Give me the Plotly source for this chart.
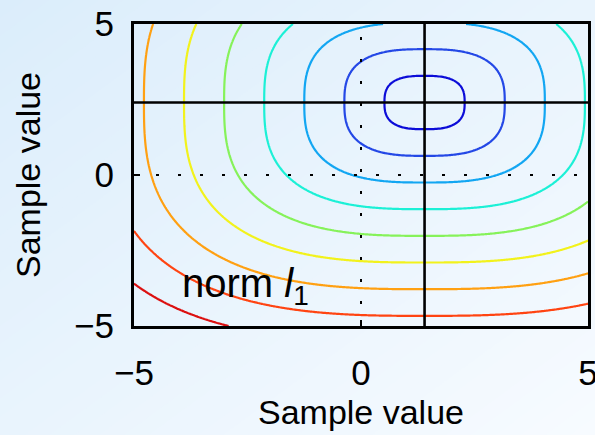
import numpy as np
import plotly.graph_objects as go

# ---- data ----
center_x = 1.4          # location of the minimum (solid black cross)
center_y = 2.4
norm_power = 2.8        # shape of the rounded-square contours
level_step = 0.883      # spacing between contour levels
n_levels = 9
level_colors = ["#0c0cd8", "#2448e6", "#12a6f2", "#1cf0d6", "#86f25a",
                "#f2f21c", "#ffa012", "#ff4412", "#dc1010"]
x_range = [-5, 5]
y_range = [-5, 5]
tick_vals = [-5, 0, 5]
tick_text = ["\u22125", "0", "5"]
axis_title = "Sample value"
label_text = "norm <i>l</i><sub>1</sub>"
label_pos = (-3.98, -3.68)

# ---- surface ----
gx = np.linspace(x_range[0], x_range[1], 301)
gy = np.linspace(y_range[0], y_range[1], 301)
X, Y = np.meshgrid(gx, gy)
Z = (np.abs(X - center_x) ** norm_power + np.abs(Y - center_y) ** norm_power) ** (1 / norm_power)

z_lo = level_step
z_hi = level_step * n_levels
cscale = [[i / (n_levels - 1), c] for i, c in enumerate(level_colors)]

fig = go.Figure()
fig.add_trace(go.Contour(
    x=gx, y=gy, z=Z,
    zmin=z_lo, zmax=z_hi,
    contours=dict(start=z_lo, end=z_hi + 1e-6, size=level_step, coloring="lines"),
    colorscale=cscale, showscale=False,
    line=dict(width=2.2),
    hoverinfo="skip",
))

FONT = "Liberation Sans, Arial, sans-serif"
W, H = 595, 435
ML, MR, MT, MB = 134, 7, 24, 109
PW, PH = W - ML - MR, H - MT - MB

# ---- soft diagonal background gradient over the whole figure (style only) ----
c0 = np.array([0xDB, 0xED, 0xFB], float)
c1 = np.array([0xF7, 0xFB, 0xFF], float)
N = 48


def fig_to_paper(fx, fyd):
    # fx: 0..1 left->right of the figure, fyd: 0..1 top->bottom of the figure
    px = (fx * W - ML) / PW
    py = ((1 - fyd) * H - MB) / PH
    return px, py


for i in range(N):
    a = 2.0 * i / N
    b = 2.0 * (i + 1) / N + 0.012
    col = c0 + (c1 - c0) * (i + 0.5) / N
    pts = []
    for s, d in [(a, -2), (b, -2), (b, 2), (a, 2)]:
        pts.append(fig_to_paper((s + d) / 2, (s - d) / 2))
    path = "M " + " L ".join(f"{p[0]:.4f},{p[1]:.4f}" for p in pts) + " Z"
    fig.add_shape(type="path", path=path, xref="paper", yref="paper",
                  fillcolor="rgb(%d,%d,%d)" % tuple(col.round().astype(int)),
                  line=dict(width=0), layer="below")

# dotted zero lines
fig.add_shape(type="line", x0=0, x1=0, y0=y_range[0], y1=y_range[1],
              line=dict(color="black", width=2, dash="3px,19px"))
fig.add_shape(type="line", x0=x_range[0], x1=x_range[1], y0=0, y1=0,
              line=dict(color="black", width=2, dash="3px,19px"))
# solid cross through the minimum
fig.add_shape(type="line", x0=center_x, x1=center_x, y0=y_range[0], y1=y_range[1],
              line=dict(color="black", width=2.6))
fig.add_shape(type="line", x0=x_range[0], x1=x_range[1], y0=center_y, y1=center_y,
              line=dict(color="black", width=2.6))

fig.add_annotation(x=label_pos[0], y=label_pos[1], text=label_text, showarrow=False,
                   xanchor="left", yanchor="middle",
                   font=dict(family=FONT, size=40, color="black"))

axis_common = dict(
    showgrid=False, zeroline=False, showline=True, mirror=True, automargin=False,
    linecolor="black", linewidth=3, ticks="inside", ticklen=6, tickwidth=2,
    tickcolor="black", tickvals=tick_vals, ticktext=tick_text,
    ticklabeloverflow="allow",
    tickfont=dict(family=FONT, size=35, color="black"),
)
fig.update_xaxes(range=x_range, ticklabelstandoff=14,
                 title=dict(text=axis_title, standoff=10,
                            font=dict(family=FONT, size=34, color="black")),
                 **axis_common)
fig.update_yaxes(range=y_range, ticklabelstandoff=10,
                 title=dict(text=axis_title, standoff=24,
                            font=dict(family=FONT, size=34, color="black")),
                 **axis_common)

fig.update_layout(
    width=W, height=H,
    margin=dict(l=ML, r=MR, t=MT, b=MB),
    paper_bgcolor="#e8f3fc",
    plot_bgcolor="rgba(0,0,0,0)",
    showlegend=False,
)

fig.write_html(
    "out.html",
    config={"displayModeBar": False},
    post_script="document.body.style.margin='0';document.body.style.background='#e8f3fc';",
)
